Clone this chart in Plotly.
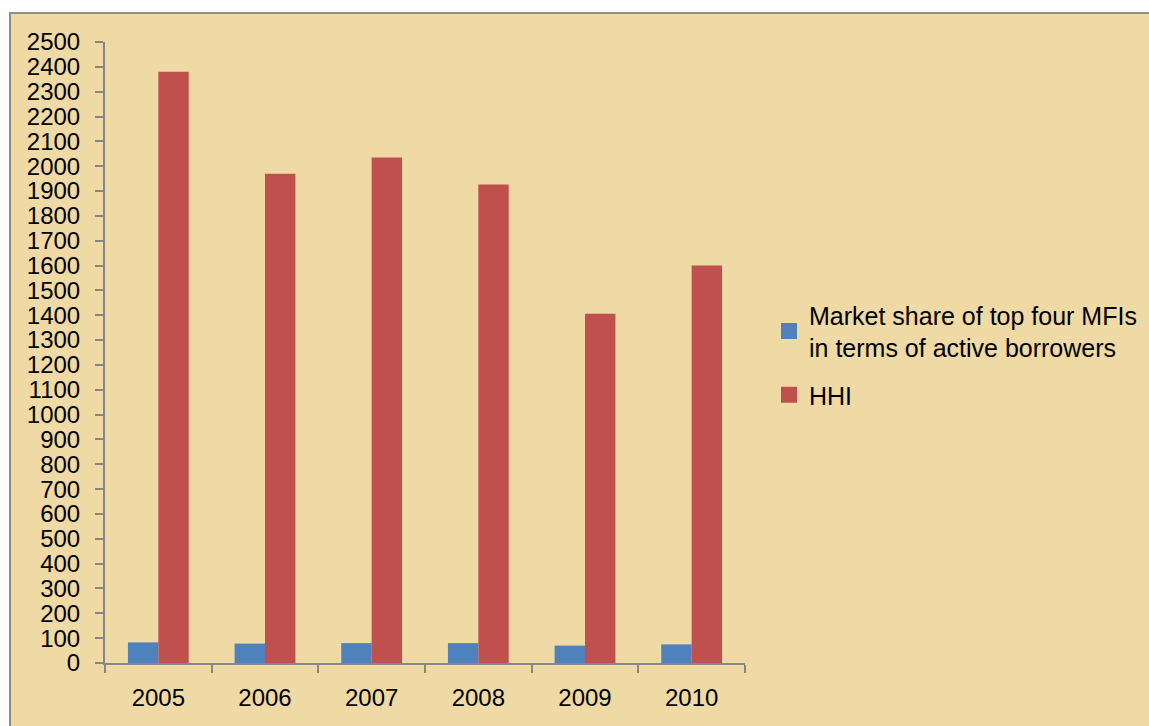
import plotly.graph_objects as go

years = ["2005", "2006", "2007", "2008", "2009", "2010"]
market_share = [83, 78, 80, 80, 70, 75]
hhi = [2380, 1970, 2035, 1926, 1406, 1600]
y_ticks = list(range(0, 2501, 100))

series_names = ["Market share of top four MFIs<br>in terms of active borrowers", "HHI"]
colors = ["#4F81BD", "#C0504D"]

W, H = 1149, 726
L, R, T, B = 105, 404, 42, 63
pw, ph = W - L - R, H - T - B

fig = go.Figure()
fig.add_trace(go.Bar(x=years, y=market_share, name=series_names[0],
                     marker=dict(color=colors[0], line=dict(width=0)), showlegend=False))
fig.add_trace(go.Bar(x=years, y=hhi, name=series_names[1],
                     marker=dict(color=colors[1], line=dict(width=0)), showlegend=False))
# legend entries with larger square swatches
for name, col, grp in zip(series_names, colors, ["a", "b"]):
    fig.add_trace(go.Scatter(x=[None], y=[None], mode="markers", name=name,
                             marker=dict(symbol="square", size=16, color=col),
                             legendgroup=grp, showlegend=True))

font_family = "Liberation Sans, Arial, sans-serif"

fig.update_layout(
    width=W, height=H,
    margin=dict(l=L, r=R, t=T, b=B, pad=0, autoexpand=False),
    paper_bgcolor="white",
    plot_bgcolor="rgba(0,0,0,0)",
    barmode="group", bargap=0.43, bargroupgap=0,
    font=dict(family=font_family, size=24, color="black"),
    showlegend=True,
    legend=dict(x=(769 - L) / pw, y=(663 - 292) / ph, xanchor="left", yanchor="top",
                bgcolor="rgba(0,0,0,0)", font=dict(size=25, family=font_family),
                traceorder="grouped", tracegroupgap=12, itemwidth=30),
    shapes=[dict(type="rect", xref="paper", yref="paper", layer="below",
                 x0=(10 - L) / pw, x1=(W + 20 - L) / pw,
                 y0=(663 - (H + 20)) / ph, y1=(663 - 13) / ph,
                 fillcolor="#EFD9A4", line=dict(color="#8C8C8C", width=2))],
)

fig.update_yaxes(range=[0, 2500], tickvals=y_ticks, ticktext=[str(v) for v in y_ticks],
                 showgrid=False, zeroline=False, showline=True, linecolor="#868686", linewidth=2,
                 ticks="outside", ticklen=8, tickcolor="#868686", tickwidth=2,
                 ticklabelstandoff=10, tickfont=dict(size=24))
fig.update_xaxes(type="category", showgrid=False, showline=True, linecolor="#868686", linewidth=2,
                 ticks="outside", ticklen=8, tickcolor="#868686", tickwidth=2,
                 tickson="boundaries", ticklabelstandoff=12, tickfont=dict(size=24))

fig.write_html("out.html")
